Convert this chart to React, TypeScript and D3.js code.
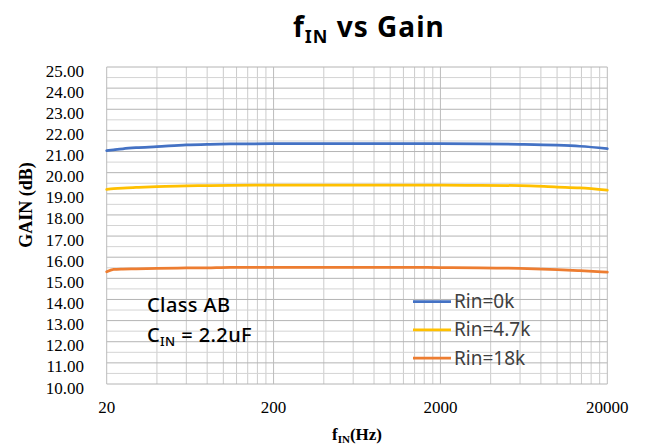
import * as d3 from 'd3';

// frequency points (Hz) and measured gain (dB) for each input resistor
const freqs = [20, 22, 25, 30, 40, 60, 80, 110, 200, 500, 1000, 2000, 3450, 6000, 10000, 13700, 20000];
const gainRin0k = [21.04, 21.08, 21.13, 21.18, 21.23, 21.31, 21.34, 21.36, 21.37, 21.37, 21.37, 21.37, 21.36, 21.34, 21.3, 21.25, 21.14];
const gainRin4k7 = [19.21, 19.24, 19.27, 19.3, 19.34, 19.37, 19.39, 19.4, 19.41, 19.41, 19.41, 19.41, 19.4, 19.39, 19.32, 19.28, 19.17];
const gainRin18k = [15.31, 15.42, 15.44, 15.45, 15.47, 15.49, 15.5, 15.52, 15.52, 15.52, 15.52, 15.51, 15.5, 15.47, 15.41, 15.36, 15.29];

const seriesNames = ['Rin=0k', 'Rin=4.7k', 'Rin=18k'];
const seriesColors = ['#4472C4', '#FFC000', '#ED7D31'];
const xTicks = [20, 200, 2000, 20000];
const yTicks = d3.range(10, 25.01, 1);

const W = 646;
const H = 448;
const left = 106.7;
const right = 607.3;
const top = 67;
const bottom = 384;

export default function App() {
  const x = d3.scaleLog().domain([20, 20000]).range([left, right]);
  const y = d3.scaleLinear().domain([10, 25]).range([bottom, top]);

  // Excel style log grid: minor lines at multiples of each decade start
  const xMinor: number[] = [];
  for (const d of [20, 200, 2000]) {
    for (let k = 2; k <= 9; k++) xMinor.push(d * k);
  }
  const yMinor = d3.range(10.5, 25, 1);

  const all = [gainRin0k, gainRin4k7, gainRin18k];
  const line = d3
    .line<number>()
    .x((_, i) => x(freqs[i]))
    .y((d) => y(d))
    .curve(d3.curveMonotoneX);

  const serif = '"Liberation Serif", "Times New Roman", serif';
  const sans = '"Noto Sans", "Open Sans", sans-serif';

  return (
    <svg width={W} height={H} style={{ position: 'absolute', left: 0, top: 0, background: '#fff' }}>
      {/* grid */}
      {xMinor.map((f) => (
        <line key={'xm' + f} x1={x(f)} x2={x(f)} y1={top} y2={bottom} stroke="#cbcbcb" strokeWidth={1} />
      ))}
      {yMinor.map((v) => (
        <line key={'ym' + v} x1={left} x2={right} y1={y(v)} y2={y(v)} stroke="#d4d4d4" strokeWidth={1} />
      ))}
      {yTicks.map((v) => (
        <line key={'yt' + v} x1={left} x2={right} y1={y(v)} y2={y(v)} stroke="#b4b4b4" strokeWidth={1} />
      ))}
      {xTicks.map((f) => (
        <line key={'xt' + f} x1={x(f)} x2={x(f)} y1={top} y2={bottom} stroke="#bcbcbc" strokeWidth={1} />
      ))}

      {/* tick labels */}
      {yTicks.map((v) => (
        <text key={'yl' + v} x={84} y={y(v) + 9.5} textAnchor="end" fontFamily={serif} fontSize={17} fill="#000">
          {v.toFixed(2)}
        </text>
      ))}
      {xTicks.map((f) => (
        <text key={'xl' + f} x={x(f)} y={413} textAnchor="middle" fontFamily={serif} fontSize={17} fill="#000">
          {f}
        </text>
      ))}

      {/* series */}
      {all.map((vals, i) => (
        <path key={seriesNames[i]} d={line(vals) || ''} fill="none" stroke={seriesColors[i]} strokeWidth={2.75} strokeLinecap="round" />
      ))}

      {/* title */}
      <text x={293} y={37} fontFamily={sans} fontWeight={700} fontSize={28} letterSpacing={1} fill="#000">
        f<tspan fontSize={18} dy={6}>IN</tspan>
        <tspan dy={-6}> vs Gain</tspan>
      </text>

      {/* axis titles */}
      <text x={357} y={440} textAnchor="middle" fontFamily={serif} fontWeight={700} fontSize={17} fill="#000">
        f<tspan fontSize={11} dy={3}>IN</tspan>
        <tspan dy={-3}>(Hz)</tspan>
      </text>
      <text
        transform="translate(32,205) rotate(-90)"
        textAnchor="middle"
        fontFamily={serif}
        fontWeight={700}
        fontSize={18}
        fill="#000"
      >
        GAIN (dB)
      </text>

      {/* annotation */}
      <text x={147} y={312} fontFamily={sans} fontWeight={500} fontSize={20} letterSpacing={0.4} fill="#000">Class AB</text>
      <text x={147} y={342} fontFamily={sans} fontWeight={500} fontSize={20} letterSpacing={0.4} fill="#000">
        C<tspan fontSize={13} dy={4}>IN</tspan>
        <tspan dy={-4}> = 2.2uF</tspan>
      </text>

      {/* legend */}
      {seriesNames.map((n, i) => {
        const ly = 301.5 + i * 28.3;
        return (
          <g key={'lg' + n}>
            <line x1={413} x2={451} y1={ly} y2={ly} stroke={seriesColors[i]} strokeWidth={2.75} />
            <text x={454} y={ly + 6.5} fontFamily={sans} fontSize={19} fill="#404040">{n}</text>
          </g>
        );
      })}
    </svg>
  );
}
